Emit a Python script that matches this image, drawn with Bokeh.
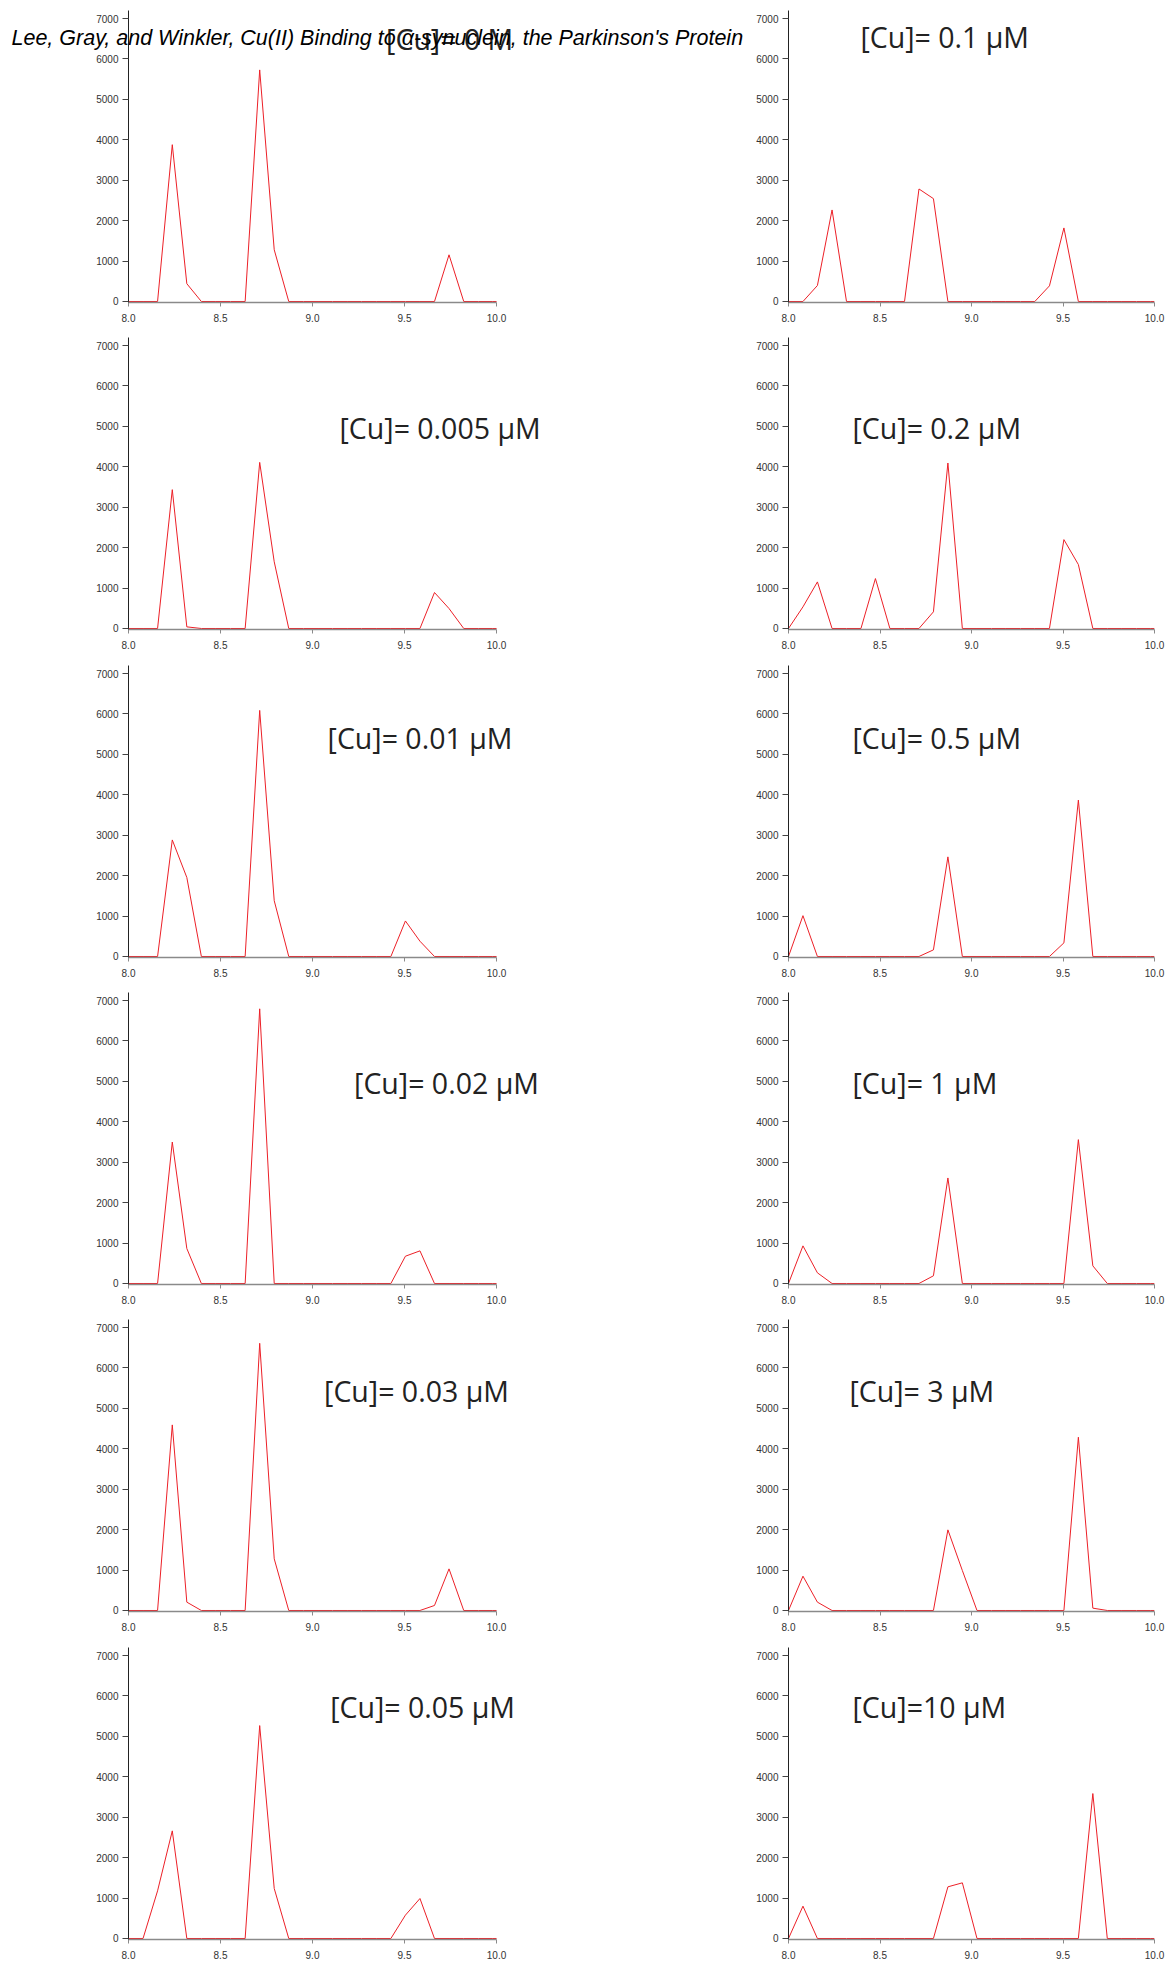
from bokeh.plotting import figure
from bokeh.models import Range1d, FixedTicker, NumeralTickFormatter, Label
from bokeh.layouts import column, row
from bokeh.embed import file_html
from bokeh.resources import INLINE

# ---------------- data ----------------
size_x = [8.000, 8.079, 8.158, 8.238, 8.317, 8.396, 8.475, 8.554, 8.634, 8.713,
          8.792, 8.871, 8.950, 9.030, 9.109, 9.188, 9.267, 9.346, 9.426, 9.505,
          9.584, 9.663, 9.742, 9.822, 9.901, 9.980, 10.000]

cu_0    = [0, 0, 0, 3880, 440, 0, 0, 0, 0, 5730, 1280, 0, 0, 0, 0, 0, 0, 0, 0, 0, 0, 0, 1155, 0, 0, 0, 0]
cu_0005 = [0, 0, 0, 3435, 40, 0, 0, 0, 0, 4110, 1650, 0, 0, 0, 0, 0, 0, 0, 0, 0, 0, 890, 494, 0, 0, 0, 0]
cu_001  = [0, 0, 0, 2884, 1955, 0, 0, 0, 0, 6089, 1380, 0, 0, 0, 0, 0, 0, 0, 0, 879, 378, 0, 0, 0, 0, 0, 0]
cu_002  = [0, 0, 0, 3500, 865, 0, 0, 0, 0, 6796, 0, 0, 0, 0, 0, 0, 0, 0, 0, 675, 807, 0, 0, 0, 0, 0, 0]
cu_003  = [0, 0, 0, 4592, 206, 0, 0, 0, 0, 6611, 1278, 0, 0, 0, 0, 0, 0, 0, 0, 0, 0, 124, 1030, 0, 0, 0, 0]
cu_005  = [0, 0, 1179, 2663, 0, 0, 0, 0, 0, 5268, 1237, 0, 0, 0, 0, 0, 0, 0, 0, 577, 989, 0, 0, 0, 0, 0, 0]
cu_01   = [0, 0, 395, 2265, 0, 0, 0, 0, 0, 2784, 2545, 0, 0, 0, 0, 0, 0, 0, 387, 1820, 0, 0, 0, 0, 0, 0, 0]
cu_02   = [0, 535, 1153, 0, 0, 0, 1235, 0, 0, 0, 412, 4094, 0, 0, 0, 0, 0, 0, 0, 2199, 1582, 0, 0, 0, 0, 0, 0]
cu_05   = [0, 1010, 0, 0, 0, 0, 0, 0, 0, 0, 164, 2465, 0, 0, 0, 0, 0, 0, 0, 337, 3870, 0, 0, 0, 0, 0, 0]
cu_1    = [0, 931, 264, 0, 0, 0, 0, 0, 0, 0, 190, 2611, 0, 0, 0, 0, 0, 0, 0, 0, 3559, 437, 0, 0, 0, 0, 0]
cu_3    = [0, 849, 206, 0, 0, 0, 0, 0, 0, 0, 0, 1995, 989, 0, 0, 0, 0, 0, 0, 0, 4287, 58, 0, 0, 0, 0, 0]
cu_10   = [0, 800, 0, 0, 0, 0, 0, 0, 0, 0, 0, 1278, 1377, 0, 0, 0, 0, 0, 0, 0, 0, 3586, 0, 0, 0, 0, 0]

left_series = [cu_0, cu_0005, cu_001, cu_002, cu_003, cu_005]
right_series = [cu_01, cu_02, cu_05, cu_1, cu_3, cu_10]

left_labels = ["[Cu]= 0 M", "[Cu]= 0.005 \u03bcM", "[Cu]= 0.01 \u03bcM",
               "[Cu]= 0.02 \u03bcM", "[Cu]= 0.03 \u03bcM", "[Cu]= 0.05 \u03bcM"]
right_labels = ["[Cu]= 0.1 \u03bcM", "[Cu]= 0.2 \u03bcM", "[Cu]= 0.5 \u03bcM",
                "[Cu]= 1 \u03bcM", "[Cu]= 3 \u03bcM", "[Cu]=10 \u03bcM"]
left_label_x = [9.40, 9.147, 9.082, 9.226, 9.063, 9.096]
right_label_x = [8.393, 8.350, 8.350, 8.350, 8.333, 8.350]
left_label_y = [6507, 4973, 5418, 4973, 5443, 5740]
right_label_y = [6539, 4973, 5418, 4973, 5443, 5740]

x_ticks = [8.0, 8.5, 9.0, 9.5, 10.0]
y_ticks = [0, 1000, 2000, 3000, 4000, 5000, 6000, 7000]

title_text = "Lee, Gray, and Winkler, Cu(II) Binding to \u03b1-synuclein, the Parkinson's Protein"

# ---------------- drawing ----------------
LINE_RED = "#ec2027"
LEFT_FRAME_W = 620      # 8.0 -> 10.0 spans the first 368 px, the rest leaves room for the labels
LEFT_DATA_W = 368
RIGHT_FRAME_W = 366
FRAME_H = 292
# (border_top, border_bottom) per row, giving row tops 0, 336, 664, 991, 1318, 1646
ROW_BORDERS = [(10, 34), (1, 35), (1, 34), (1, 34), (1, 35), (1, 0)]


def make_panel(ys, label, lx, ly, side, r):
    bt, bb = ROW_BORDERS[r]
    if side == "left":
        bl, br, fw = 128, 0, LEFT_FRAME_W
        xr = Range1d(8, 8 + 2.0 * LEFT_FRAME_W / LEFT_DATA_W)
    else:
        bl, br, fw = 40, 14, RIGHT_FRAME_W
        xr = Range1d(8, 10)
    p = figure(output_backend="svg", toolbar_location=None,
               frame_width=fw, frame_height=FRAME_H,
               x_range=xr, y_range=Range1d(-25, 7200),
               min_border_left=bl, min_border_right=br,
               min_border_top=bt, min_border_bottom=bb)
    p.background_fill_alpha = 0
    p.border_fill_alpha = 0
    p.outline_line_color = None
    p.xgrid.visible = False
    p.ygrid.visible = False

    p.xaxis.bounds = (8, 10)
    p.xaxis.ticker = FixedTicker(ticks=x_ticks)
    p.xaxis.formatter = NumeralTickFormatter(format="0.0")
    p.xaxis.axis_line_color = "#8a8a8a"
    p.xaxis.axis_line_width = 1.5
    p.xaxis.major_tick_line_color = "#8a8a8a"
    p.xaxis.major_tick_out = 4
    p.xaxis.major_tick_in = 0
    p.xaxis.minor_tick_line_color = None
    p.xaxis.major_label_standoff = 7
    p.xaxis.major_label_text_font = "Liberation Sans"
    p.xaxis.major_label_text_font_size = "10px"
    p.xaxis.major_label_text_color = "#333333"

    p.yaxis.ticker = FixedTicker(ticks=y_ticks)
    p.yaxis.axis_line_color = "#222222"
    p.yaxis.axis_line_width = 1
    p.yaxis.major_tick_line_color = "#444444"
    p.yaxis.major_tick_out = 6
    p.yaxis.major_tick_in = 0
    p.yaxis.minor_tick_line_color = None
    p.yaxis.major_label_standoff = 4
    p.yaxis.major_label_text_font = "Liberation Sans"
    p.yaxis.major_label_text_font_size = "10px"
    p.yaxis.major_label_text_color = "#333333"

    p.line(size_x, ys, line_color=LINE_RED, line_width=1)

    p.add_layout(Label(x=lx, y=ly, text=label, text_font="Open Sans",
                       text_font_size="28.5px", text_color="#222222",
                       text_align="left", text_baseline="middle"))
    return p


# transparent overlay carrying the page title, laid over the first row
TITLE_H = 64
title_fig = figure(output_backend="svg", toolbar_location=None,
                   frame_width=1160, frame_height=TITLE_H,
                   x_range=Range1d(0, 1160), y_range=Range1d(0, TITLE_H),
                   x_axis_location=None, y_axis_location=None,
                   min_border=0, margin=(0, 0, -TITLE_H, 0),
                   styles={"z-index": "10", "position": "relative"})
title_fig.background_fill_alpha = 0
title_fig.border_fill_alpha = 0
title_fig.outline_line_color = None
title_fig.xgrid.visible = False
title_fig.ygrid.visible = False
title_fig.add_layout(Label(x=11.0, y=TITLE_H - 37, text=title_text,
                           text_font="Liberation Sans", text_font_style="italic",
                           text_font_size="21.5px", text_color="black",
                           text_align="left", text_baseline="alphabetic"))

rows = [title_fig]
for i in range(len(left_series)):
    pl = make_panel(left_series[i], left_labels[i], left_label_x[i], left_label_y[i], "left", i)
    pr = make_panel(right_series[i], right_labels[i], right_label_x[i], right_label_y[i], "right", i)
    rows.append(row(pl, pr))

layout = column(*rows)

open("out.html", "w").write(file_html(layout, INLINE))
